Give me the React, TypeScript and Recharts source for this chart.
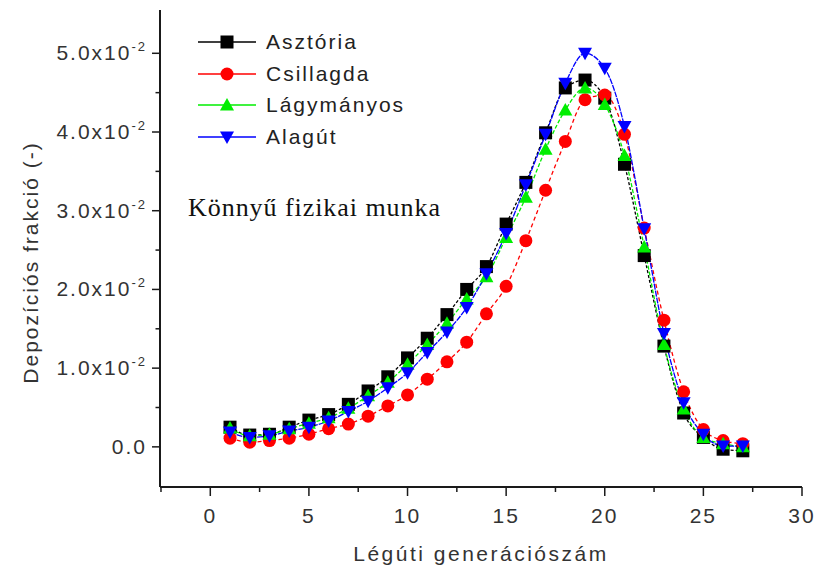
import React from "react";
import { LineChart, Line, XAxis, YAxis, Legend } from "recharts";

// airway generation number
const generations = [
  1, 2, 3, 4, 5, 6, 7, 8, 9, 10, 11, 12, 13, 14, 15, 16, 17, 18, 19, 20, 21, 22, 23, 24, 25, 26, 27,
];

// deposition fraction per site
const asztoria = [
  0.0025, 0.0015, 0.0016, 0.0025, 0.0034, 0.0041, 0.0054, 0.0071, 0.0089, 0.0113, 0.0138, 0.0168, 0.02,
  0.0229, 0.0283, 0.0336, 0.0399, 0.0456, 0.0466, 0.0443, 0.0359, 0.0243, 0.0128, 0.0043, 0.0012, -0.0003,
  -0.0005,
];
const csillagda = [
  0.0011, 0.0006, 0.0008, 0.0011, 0.0016, 0.0023, 0.0029, 0.0039, 0.0052, 0.0066, 0.0086, 0.0108, 0.0133,
  0.0169, 0.0204, 0.0262, 0.0326, 0.0388, 0.0441, 0.0447, 0.0397, 0.0278, 0.0161, 0.007, 0.0022, 0.0008,
  0.0004,
];
const lagymanyos = [
  0.0024, 0.0014, 0.0016, 0.0023, 0.003, 0.0037, 0.0049, 0.0065, 0.0082, 0.0105, 0.013, 0.0157, 0.0188,
  0.0216, 0.0266, 0.0317, 0.0378, 0.0428, 0.0456, 0.0435, 0.037, 0.0254, 0.013, 0.0048, 0.0012, 0.0004, 0,
];
const alagut = [
  0.0019, 0.0012, 0.0014, 0.002, 0.0025, 0.0033, 0.0045, 0.0058, 0.0075, 0.0094, 0.012, 0.0146, 0.0177,
  0.022, 0.0271, 0.0333, 0.0397, 0.0462, 0.05, 0.0481, 0.0407, 0.0277, 0.0144, 0.0056, 0.0016, 0.0001,
  0.0001,
];

const xTicks = [-2.5, 0, 2.5, 5, 7.5, 10, 12.5, 15, 17.5, 20, 22.5, 25, 27.5, 30];
const yTicks = [0, 0.005, 0.01, 0.015, 0.02, 0.025, 0.03, 0.035, 0.04, 0.045, 0.05];

const data = generations.map((g, i) => ({
  gen: g,
  asztoria: asztoria[i],
  csillagda: csillagda[i],
  lagymanyos: lagymanyos[i],
  alagut: alagut[i],
}));

const series = [
  { key: "asztoria", name: "Asztória", color: "#000000", shape: "square", dash: "3 2" },
  { key: "csillagda", name: "Csillagda", color: "#ff0000", shape: "circle", dash: "4 3" },
  { key: "lagymanyos", name: "Lágymányos", color: "#00ee00", shape: "up", dash: "4 2" },
  { key: "alagut", name: "Alagút", color: "#0000ff", shape: "down", dash: "6 1" },
];

const AXIS = "#1a1a1a";
const FONT = "'Liberation Sans', Arial, sans-serif";

const Marker = ({ cx, cy, shape, color }: any) => {
  if (cx == null || cy == null) return null;
  if (shape === "square") return <rect x={cx - 6.5} y={cy - 6.5} width={13} height={13} fill={color} />;
  if (shape === "circle") return <circle cx={cx} cy={cy} r={6.5} fill={color} />;
  if (shape === "up")
    return <polygon points={`${cx},${cy - 7} ${cx + 7},${cy + 5.5} ${cx - 7},${cy + 5.5}`} fill={color} />;
  return <polygon points={`${cx},${cy + 7} ${cx + 7},${cy - 5.5} ${cx - 7},${cy - 5.5}`} fill={color} />;
};

const YTick = ({ x, y, payload }: any) => {
  const v = payload.value;
  const major = Math.round(v * 1000) % 10 === 0;
  const m = (v * 100).toFixed(1);
  return (
    <g>
      <line x1={x - (major ? 8 : 4.5)} x2={x} y1={y} y2={y} stroke={AXIS} strokeWidth={1.5} />
      {major && (
        <text
          x={x - 13}
          y={y + 7}
          textAnchor="end"
          fontFamily={FONT}
          fontSize={21}
          letterSpacing={2}
          fill="#333"
        >
          {v === 0 ? (
            "0.0"
          ) : (
            <>
              {m}x10
              <tspan dy={-9} fontSize={13}>
                -2
              </tspan>
            </>
          )}
        </text>
      )}
    </g>
  );
};

const XTick = ({ x, y, payload }: any) => {
  const v = payload.value;
  const major = v % 5 === 0;
  return (
    <g>
      <line x1={x} x2={x} y1={y} y2={y + (major ? 9 : 5)} stroke={AXIS} strokeWidth={1.5} />
      {major && (
        <text
          x={x}
          y={y + 36}
          textAnchor="middle"
          fontFamily={FONT}
          fontSize={21}
          letterSpacing={2}
          fill="#333"
        >
          {v}
        </text>
      )}
    </g>
  );
};

const YLabel = ({ viewBox }: any) => {
  const cx = viewBox.x + 30;
  const cy = viewBox.y + viewBox.height / 2 + 14;
  return (
    <text
      x={cx}
      y={cy}
      transform={`rotate(-90, ${cx}, ${cy})`}
      textAnchor="middle"
      dominantBaseline="central"
      fontFamily={FONT}
      fontSize={21}
      letterSpacing={2}
      fill="#333"
    >
      Depozíciós frakció (-)
    </text>
  );
};

const renderLegend = () => (
  <div style={{ fontFamily: FONT, fontSize: 21, color: "#222" }}>
    {series.map((s) => (
      <div key={s.key} style={{ display: "flex", alignItems: "center", height: 31.7 }}>
        <svg width={66} height={20}>
          <line x1={2} x2={60} y1={10} y2={10} stroke={s.color} strokeWidth={1.3} />
          <Marker cx={31} cy={10} shape={s.shape} color={s.color} />
        </svg>
        <span style={{ marginLeft: 4, letterSpacing: 2 }}>{s.name}</span>
      </div>
    ))}
  </div>
);

export default function App() {
  return (
    <div style={{ position: "absolute", left: 0, top: 0, width: 816, height: 569, background: "#fff" }}>
      <LineChart width={816} height={569} data={data} margin={{ top: 10, right: 14, bottom: 4, left: 0 }}>
        <XAxis
          dataKey="gen"
          type="number"
          domain={[-2.55, 30]}
          ticks={xTicks}
          interval={0}
          allowDataOverflow
          height={78}
          tickSize={0}
          tickMargin={0}
          tick={<XTick />}
          axisLine={{ stroke: AXIS, strokeWidth: 2 }}
          label={{
            value: "Légúti generációszám",
            position: "insideBottom",
            offset: 4,
            style: { fontFamily: FONT, fontSize: 21, fill: "#333", letterSpacing: 2.5 },
          }}
        />
        <XAxis
          xAxisId="top"
          orientation="top"
          dataKey="gen"
          type="number"
          domain={[-2.55, 30]}
          height={0}
          tick={false}
          tickLine={false}
          axisLine={{ stroke: AXIS, strokeWidth: 2 }}
        />
        <YAxis
          type="number"
          domain={[-0.0051, 0.0555]}
          ticks={yTicks}
          interval={0}
          allowDataOverflow
          width={160}
          tickSize={0}
          tickMargin={0}
          tick={<YTick />}
          axisLine={{ stroke: AXIS, strokeWidth: 2 }}
          label={<YLabel />}
        />
        <YAxis
          yAxisId="right"
          orientation="right"
          width={0}
          tick={false}
          tickLine={false}
          axisLine={{ stroke: AXIS, strokeWidth: 2 }}
        />
        <Legend
          layout="vertical"
          align="center"
          verticalAlign="middle"
          content={renderLegend}
          wrapperStyle={{ left: 196, top: 26, width: 220 }}
        />
        {series.map((s) => (
          <Line
            key={s.key}
            dataKey={s.key}
            name={s.name}
            type="monotone"
            stroke={s.color}
            strokeWidth={1.3}
            strokeDasharray={s.dash}
            isAnimationActive={false}
            dot={(p: any) => <Marker key={`${s.key}-${p.index}`} cx={p.cx} cy={p.cy} shape={s.shape} color={s.color} />}
            activeDot={false}
          />
        ))}
      </LineChart>
      <div
        style={{
          position: "absolute",
          left: 188,
          top: 193,
          fontFamily: "'Liberation Serif', 'Times New Roman', serif",
          fontSize: 26,
          letterSpacing: 0.95,
          color: "#111",
        }}
      >
        Könnyű fizikai munka
      </div>
    </div>
  );
}
